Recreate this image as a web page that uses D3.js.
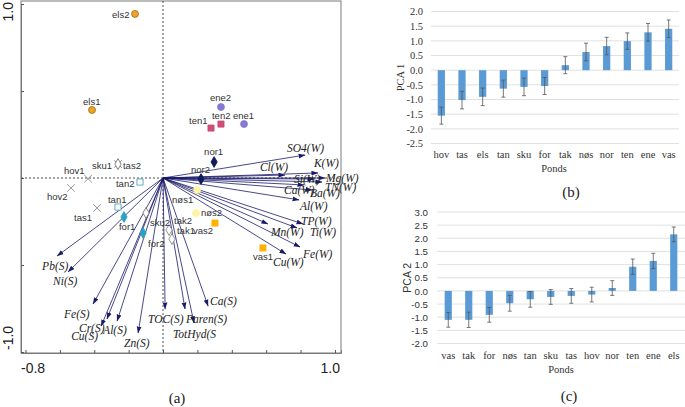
<!DOCTYPE html>
<html><head><meta charset="utf-8">
<script src="https://cdn.jsdelivr.net/npm/d3@7"></script>
<style>body{margin:0;background:#fff}svg{display:block}</style>
</head><body>
<svg id="c" width="685" height="407"></svg>
<script>
// ---------- DATA ----------
// Biplot (a): site scores
const siteNames = ["els2","els1","ene2","ene1","ten2","ten1","nor1","nor2","nøs1","nøs2","vas2","vas1",
  "hov1","hov2","tas1","tas2","sku1","tan2","tan1","for1","for2","sku2","tak2","tak1"];
const siteX = [-0.163,-0.413,0.337,0.471,0.337,0.279,0.297,0.221,0.198,0.192,0.302,0.581,
  -0.436,-0.535,-0.384,-0.262,-0.262,-0.134,-0.262,-0.227,-0.116,-0.099,0.035,0.052];
const siteY = [0.943,0.391,0.408,0.310,0.310,0.287,0.092,-0.006,-0.069,-0.201,-0.259,-0.402,
  -0.004,-0.057,-0.172,0.080,0.080,-0.023,-0.167,-0.224,-0.316,-0.201,-0.299,-0.351];
const siteGroup = ["els","els","ene","ene","ten","ten","nor","nor","nøs","nøs","vas","vas",
  "hov","hov","tas","tas","sku","tan","tan","for","for","sku","tak","tak"];
// Biplot (a): environmental variable arrows
const envNames = ["SO4(W)","K(W)","Cl(W)","Mg(W)","Si(W)","TN(W)","Ca(W)","Ba(W)","Al(W)","TP(W)","Ti(W)","Mn(W)","Fe(W)","Cu(W)",
  "Pb(S)","Ni(S)","Fe(S)","Cr(S)","Cu(S)","Al(S)","Zn(S)","TOC(S)","Paren(S)","TotHyd(S","Ca(S)"];
const envX = [0.826,0.901,0.709,0.942,0.878,0.924,0.820,0.866,0.791,0.814,0.779,0.610,0.797,0.715,
  -0.616,-0.552,-0.407,-0.326,-0.360,-0.267,-0.145,0.012,0.128,0.180,0.262];
const envY = [0.132,0.029,0.017,0.000,-0.006,-0.023,-0.040,-0.069,-0.126,-0.264,-0.287,-0.264,-0.397,-0.437,
  -0.448,-0.540,-0.724,-0.810,-0.851,-0.822,-0.891,-0.753,-0.753,-0.833,-0.736];
const xTicks = [-0.8,-0.6,-0.4,-0.2,0,0.2,0.4,0.6,0.8,1.0];
const yTicks = [-1,-0.5,0,0.5,1];

// Bar chart (b)
const pca1Ponds = ["hov","tas","els","tan","sku","for","tak","nøs","nor","ten","ene","vas"];
const pca1Mean  = [-1.55,-1.02,-0.91,-0.63,-0.57,-0.54,0.17,0.62,0.82,0.99,1.29,1.41];
const pca1Err   = [0.29,0.30,0.30,0.29,0.30,0.29,0.29,0.30,0.30,0.28,0.30,0.30];
const pca1Ticks = [-2.5,-2.0,-1.5,-1.0,-0.5,0,0.5,1.0,1.5,2.0];
// Bar chart (c)
const pca2Ponds = ["vas","tak","for","nøs","tan","sku","tas","hov","nor","ten","ene","els"];
const pca2Mean  = [-1.10,-1.10,-0.91,-0.47,-0.32,-0.23,-0.19,-0.14,0.11,0.92,1.14,2.15];
const pca2Err   = [0.28,0.29,0.28,0.30,0.30,0.28,0.28,0.28,0.28,0.29,0.29,0.28];
const pca2Ticks = [-2.0,-1.5,-1.0,-0.5,0,0.5,1.0,1.5,2.0,2.5,3.0];

// ---------- STYLE / LAYOUT ----------
const groupStyle = {
  els:{shape:"circle",fill:"#f2a42a",stroke:"#9a6a10"},
  ene:{shape:"circle",fill:"#8579d4",stroke:"#8579d4"},
  ten:{shape:"square",fill:"#cc4f78",stroke:"#cc4f78"},
  nor:{shape:"diamond",fill:"#0d1b5c",stroke:"#0d1b5c"},
  "nøs":{shape:"circle",fill:"#fff3a6",stroke:"#fff3a6"},
  vas:{shape:"square",fill:"#ffb300",stroke:"#ffb300"},
  hov:{shape:"cross",fill:"none",stroke:"#8a8a8a"},
  tas:{shape:"cross",fill:"none",stroke:"#8a8a8a"},
  tan:{shape:"square",fill:"#fff",stroke:"#3a98bb"},
  "for":{shape:"diamond",fill:"#2aa2c4",stroke:"#2aa2c4"},
  sku:{shape:"diamond",fill:"#fff",stroke:"#666"},
  tak:{shape:"diamond",fill:"#fff",stroke:"#777"}
};
const siteLabelOffset = {
  els2:[-23,4],els1:[-9,-5],ene2:[-11,-6],ene1:[-11,-5],ten2:[-9,-5],ten1:[-22,-4],
  nor1:[-10,-7],nor2:[-10,-6],"nøs1":[-25,13],"nøs2":[5,3],vas2:[-22,11],vas1:[-10,12],
  hov1:[-24,-5],hov2:[-24,12],tas1:[-23,13],tas2:[5,5],sku1:[-26,5],tan2:[-24,5],tan1:[-10,-4],
  for1:[-5,13],for2:[5,14],sku2:[4,13],tak2:[5,-6],tak1:[5,-5]
};
const envLabelOffset = {
  "SO4(W)":[-18,-3],"K(W)":[-4,-6],"Cl(W)":[-25,-4],"Mg(W)":[1,4],"Si(W)":[-20,4],"TN(W)":[3,9],
  "Ca(W)":[-20,9],"Ba(W)":[-2,7],"Al(W)":[1,10],"TP(W)":[-2,1],"Ti(W)":[13,8],"Mn(W)":[3,12],
  "Fe(W)":[3,11],"Cu(W)":[-13,12],"Pb(S)":[-15,14],"Ni(S)":[-15,13],"Fe(S)":[-29,14],"Cr(S)":[-28,13],
  "Cu(S)":[-30,14],"Al(S)":[-14,13],"Zn(S)":[-14,14],"TOC(S)":[-17,14],"Paren(S)":[1,14],
  "TotHyd(S":[-21,15],"Ca(S)":[2,-1]
};

const svg = d3.select("#c");
const SANS = "'Liberation Sans', Arial, sans-serif";
const SERIF = "'Liberation Serif', 'Times New Roman', serif";

// ---------- (a) BIPLOT ----------
const L=21, R=341, T=1, B=353;
const x = d3.scaleLinear().domain([-0.826,1.035]).range([L,R]);
const y = d3.scaleLinear().domain([-1,1]).range([352,4]);
const gA = svg.append("g");

gA.append("defs").append("marker").attr("id","ah")
  .attr("viewBox","0 -3 7 6").attr("refX",6.5).attr("refY",0)
  .attr("markerWidth",7).attr("markerHeight",6).attr("markerUnits","userSpaceOnUse")
  .attr("orient","auto").append("path").attr("d","M0,-2.4L7,0L0,2.4Z").attr("fill","#1b1b6b");

// frame
gA.append("rect").attr("x",L).attr("y",T).attr("width",R-L).attr("height",B-T)
  .attr("fill","none").attr("stroke","#7a7a7a").attr("stroke-width",1);
// dashed zero lines
gA.append("line").attr("x1",L).attr("x2",R).attr("y1",y(0)).attr("y2",y(0))
  .attr("stroke","#222").attr("stroke-width",0.8).attr("stroke-dasharray","2,2");
gA.append("line").attr("x1",x(0)).attr("x2",x(0)).attr("y1",T).attr("y2",B)
  .attr("stroke","#222").attr("stroke-width",0.8).attr("stroke-dasharray","2,2");
// axes (inward ticks)
const ax = gA.append("g").attr("transform",`translate(0,${B})`)
  .call(d3.axisBottom(x).tickValues(xTicks).tickSize(-3).tickFormat(""));
const ay = gA.append("g").attr("transform",`translate(${L},0)`)
  .call(d3.axisLeft(y).tickValues(yTicks).tickSize(-3).tickFormat(""));
[ax,ay].forEach(a=>{a.select(".domain").attr("stroke","#7a7a7a");a.selectAll(".tick line").attr("stroke","#555");});
gA.append("text").attr("x",L).attr("y",373).attr("font-family",SANS).attr("font-size",14).attr("fill","#222").text("-0.8");
gA.append("text").attr("x",R-1).attr("y",373).attr("text-anchor","end").attr("font-family",SANS).attr("font-size",14).attr("fill","#222").text("1.0");
gA.append("text").attr("transform","translate(13,2) rotate(-90)").attr("text-anchor","end")
  .attr("font-family",SANS).attr("font-size",14).attr("fill","#222").text("1.0");
gA.append("text").attr("transform","translate(13,350) rotate(-90)").attr("text-anchor","start")
  .attr("font-family",SANS).attr("font-size",14).attr("fill","#222").text("-1.0");

// arrows
const envData = envNames.map((n,i)=>({n, x:envX[i], y:envY[i]}));
gA.selectAll("line.arrow").data(envData).join("line").attr("class","arrow")
  .attr("x1",x(0)).attr("y1",y(0)).attr("x2",d=>x(d.x)).attr("y2",d=>y(d.y))
  .attr("stroke","#1b1b6b").attr("stroke-width",0.8).attr("marker-end","url(#ah)");

// sites
const siteData = siteNames.map((n,i)=>({n, x:siteX[i], y:siteY[i], g:siteGroup[i]}));
const sym = {
  circle: d3.symbol(d3.symbolCircle,38),
  square: d3.symbol(d3.symbolSquare,38),
  diamond: d3.symbol(d3.symbolDiamond,34),
  cross: d3.symbol(d3.symbolX,40)
};
gA.selectAll("path.site").data(siteData).join("path").attr("class","site")
  .attr("transform",d=>`translate(${x(d.x)},${y(d.y)})`)
  .attr("d",d=>sym[groupStyle[d.g].shape]())
  .attr("fill",d=>groupStyle[d.g].fill)
  .attr("stroke",d=>groupStyle[d.g].stroke)
  .attr("stroke-width",d=>groupStyle[d.g].shape==="cross"?0.9:0.8);

gA.selectAll("text.site").data(siteData).join("text").attr("class","site")
  .attr("x",d=>x(d.x)+siteLabelOffset[d.n][0]).attr("y",d=>y(d.y)+siteLabelOffset[d.n][1])
  .attr("font-family",SANS).attr("font-size",9.5).attr("fill","#333").text(d=>d.n);

gA.selectAll("text.env").data(envData).join("text").attr("class","env")
  .attr("x",d=>x(d.x)+envLabelOffset[d.n][0]).attr("y",d=>y(d.y)+envLabelOffset[d.n][1])
  .attr("font-family",SERIF).attr("font-style","italic").attr("font-size",11.5).attr("fill","#222").text(d=>d.n);

gA.append("text").attr("x",177).attr("y",403).attr("text-anchor","middle")
  .attr("font-family",SERIF).attr("font-size",15).attr("fill","#222").text("(a)");

// ---------- BAR CHARTS ----------
const fmt = v => v.toFixed(1);
function barChart(cfg){
  const g = svg.append("g");
  const xb = d3.scaleBand().domain(cfg.ponds).range(cfg.xr).paddingInner(0.65).paddingOuter(0.325);
  const yb = d3.scaleLinear().domain(cfg.yd).range(cfg.yr);
  g.selectAll("line.grid").data(cfg.ticks).join("line").attr("class","grid")
    .attr("x1",cfg.gx[0]).attr("x2",cfg.gx[1]).attr("y1",d=>yb(d)).attr("y2",d=>yb(d))
    .attr("stroke","#d9d9d9").attr("stroke-width",0.8);
  const ya = g.append("g").attr("transform",`translate(${cfg.gx[0]},0)`)
    .call(d3.axisLeft(yb).tickValues(cfg.ticks).tickSize(0).tickPadding(cfg.tickPad).tickFormat(fmt));
  ya.select(".domain").remove();
  ya.selectAll("text").attr("font-family",cfg.tickFont).attr("font-size",cfg.tickSize).attr("fill","#333");
  const data = cfg.ponds.map((p,i)=>({p, m:cfg.mean[i], e:cfg.err[i]}));
  g.selectAll("rect.bar").data(data).join("rect").attr("class","bar")
    .attr("x",d=>xb(d.p)).attr("width",xb.bandwidth())
    .attr("y",d=>yb(Math.max(0,d.m))).attr("height",d=>Math.abs(yb(d.m)-yb(0)))
    .attr("fill","#5b9bd5");
  const cx = d=>xb(d.p)+xb.bandwidth()/2;
  g.selectAll("line.eb").data(data).join("line").attr("class","eb")
    .attr("x1",cx).attr("x2",cx).attr("y1",d=>yb(d.m+d.e)).attr("y2",d=>yb(d.m-d.e))
    .attr("stroke","#555").attr("stroke-width",0.8);
  [1,-1].forEach(s=>{
    g.selectAll("line.cap"+s).data(data).join("line")
      .attr("x1",d=>cx(d)-2).attr("x2",d=>cx(d)+2)
      .attr("y1",d=>yb(d.m+s*d.e)).attr("y2",d=>yb(d.m+s*d.e))
      .attr("stroke","#555").attr("stroke-width",0.8);
  });
  const xa = g.append("g").attr("transform",`translate(0,${cfg.catY})`)
    .call(d3.axisBottom(xb).tickSize(0).tickPadding(0));
  xa.select(".domain").remove();
  xa.selectAll("text").attr("font-family",SERIF).attr("font-size",10.5).attr("fill","#333").attr("dy","0");
  g.append("text").attr("x",cfg.pondsX).attr("y",cfg.pondsY).attr("text-anchor","middle")
    .attr("font-family",SERIF).attr("font-size",10.5).attr("fill","#333").text("Ponds");
  g.append("text").attr("transform",`translate(${cfg.titleX},${(cfg.yr[0]+cfg.yr[1])/2}) rotate(-90)`)
    .attr("text-anchor","middle").attr("font-family",cfg.titleFont).attr("font-size",10.5).attr("fill","#333").text(cfg.title);
  g.append("text").attr("x",cfg.lblX).attr("y",cfg.lblY).attr("text-anchor","middle")
    .attr("font-family",SERIF).attr("font-size",15).attr("fill","#222").text(cfg.lbl);
}

barChart({ponds:pca1Ponds, mean:pca1Mean, err:pca1Err, ticks:pca1Ticks,
  xr:[431,679], gx:[431,679], yd:[-2.5,2.0], yr:[143.5,11.5], tickPad:8, tickFont:SERIF, tickSize:10.5,
  catY:158, pondsX:554, pondsY:172, titleX:404, titleFont:SERIF, title:"PCA 1", lbl:"(b)", lblX:571, lblY:197});
barChart({ponds:pca2Ponds, mean:pca2Mean, err:pca2Err, ticks:pca2Ticks,
  xr:[438,684], gx:[437,685], yd:[-2.0,3.0], yr:[343.5,212], tickPad:9, tickFont:SANS, tickSize:9.7,
  catY:359, pondsX:561, pondsY:373, titleX:411, titleFont:SANS, title:"PCA 2", lbl:"(c)", lblX:569, lblY:401});
</script>
</body></html>
